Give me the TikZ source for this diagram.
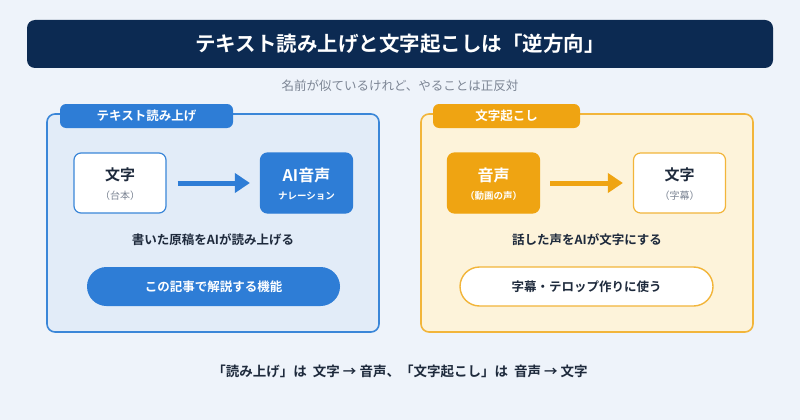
\documentclass[tikz,border=0pt]{standalone}
\usepackage{fontspec}
\setmainfont{Noto Sans CJK JP}[BoldFont={Noto Sans CJK JP Bold}]
\usetikzlibrary{arrows.meta}
\definecolor{bg}{HTML}{EEF3FA}
\definecolor{navy}{HTML}{0C2A52}
\definecolor{blu}{HTML}{2E7DD6}
\definecolor{bluepanel}{HTML}{E2ECF8}
\definecolor{bluebord}{HTML}{3A86D8}
\definecolor{ora}{HTML}{EFA412}
\definecolor{orapanel}{HTML}{FDF3DA}
\definecolor{orabord}{HTML}{F2B53A}
\definecolor{dark}{HTML}{1E2A3C}
\definecolor{grey}{HTML}{7C8594}
\begin{document}
\begin{tikzpicture}[x=1pt,y=-1pt,
  fsz/.style={font=\fontsize{#1}{#1}\selectfont},
  fb/.style={font=\fontsize{#1}{#1}\selectfont\bfseries},
  panel/.style={rounded corners=8, line width=1.6pt},
  tab/.style={rounded corners=6, inner sep=0pt},
  card/.style={rounded corners=7, line width=1.2pt, minimum width=92, minimum height=60, inner sep=0pt, align=center},
  pill/.style={rounded corners=19.5, minimum width=253, minimum height=39, inner sep=0pt, line width=1.4pt},
  flow/.style={line width=5pt, -{Triangle[length=15pt,width=19pt]}}]
\useasboundingbox (0,0) rectangle (800,420);
\fill[bg] (0,0) rectangle (800,420);
% title
\node[fill=navy, rounded corners=8, minimum width=746, minimum height=48, inner sep=0pt, text=white, fb=20.5] (title) at (400,44) {テキスト読み上げと文字起こしは「逆方向」};
\node[text=grey, fsz=12.5] (sub) at (400,86) {名前が似ているけれど、やることは正反対};
% left panel
\draw[panel, fill=bluepanel, draw=bluebord] (47,114) rectangle (379,332);
\node[tab, fill=blu, minimum width=173, minimum height=24, text=white, fb=12.5] (ltab) at (146.5,116) {テキスト読み上げ};
\node[card, fill=white, draw=bluebord] (lsrc) at (120,183) {};
\node[text=dark, fb=15] (lsrct) at (120,175) {文字};
\node[text=grey, fsz=10] (lsrcs) at (120,196) {（台本）};
\node[card, fill=blu, draw=blu] (ldst) at (306.5,183) {};
\node[text=white, fb=16] (ldstt) at (306.5,175) {AI音声};
\node[text=white, fb=9.5] (ldsts) at (306.5,196) {ナレーション};
\draw[flow, draw=blu] ([xshift=11]lsrc.east) -- ([xshift=-10]ldst.west);
\node[text=dark, fb=12.5] (ldesc) at (213,240) {書いた原稿をAIが読み上げる};
\node[pill, fill=blu, text=white, fb=12.5] (lpill) at (213.5,286.5) {この記事で解説する機能};
% right panel
\draw[panel, fill=orapanel, draw=orabord] (421,114) rectangle (753,332);
\node[tab, fill=ora, minimum width=147, minimum height=24, text=white, fb=12.5] (rtab) at (506.5,116) {文字起こし};
\node[card, fill=ora, draw=ora] (rsrc) at (493.5,183) {};
\node[text=white, fb=16] (rsrct) at (493.5,175) {音声};
\node[text=white, fb=9.5] (rsrcs) at (493.5,196) {（動画の声）};
\node[card, fill=white, draw=orabord] (rdst) at (679.5,183) {};
\node[text=dark, fb=15] (rdstt) at (679.5,175) {文字};
\node[text=grey, fsz=10] (rdsts) at (679.5,196) {（字幕）};
\draw[flow, draw=ora] ([xshift=10]rsrc.east) -- ([xshift=-10]rdst.west);
\node[text=dark, fb=12.5] (rdesc) at (587,240) {話した声をAIが文字にする};
\node[pill, fill=white, draw=orabord, text=dark, fb=12.5] (rpill) at (586.5,286.5) {字幕・テロップ作りに使う};
% bottom
\node[text=dark, fb=13.5] (foot) at (400,371) {「読み上げ」は\hspace{3pt} 文字 → 音声、「文字起こし」は\hspace{3pt} 音声 → 文字};
\end{tikzpicture}
\end{document}
